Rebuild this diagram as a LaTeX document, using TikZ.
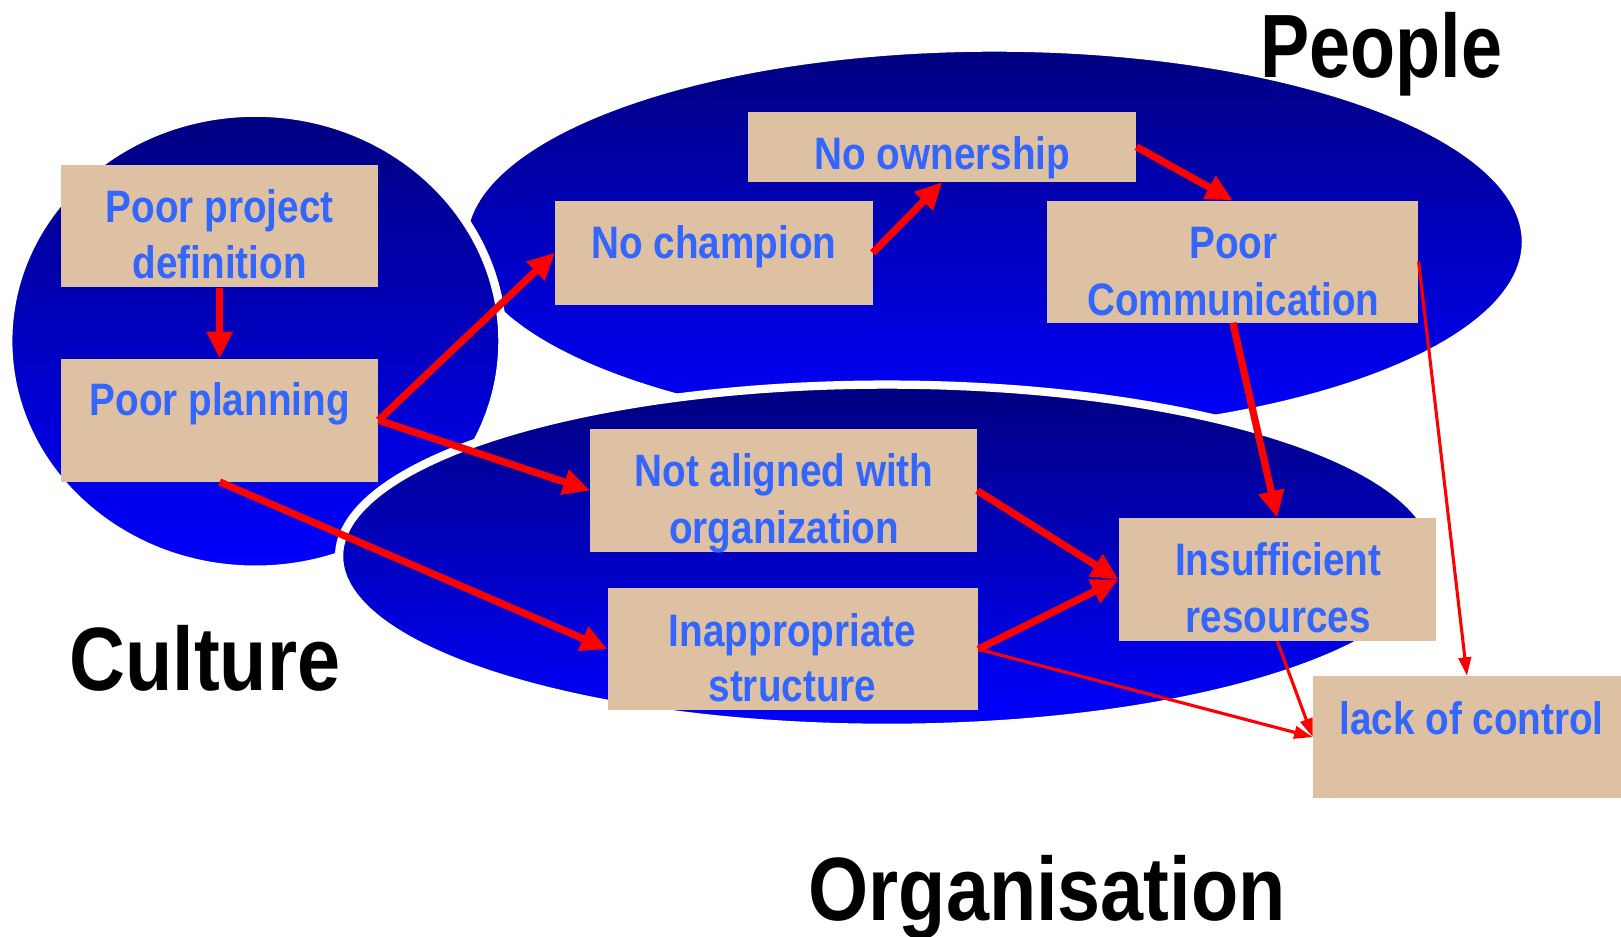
\documentclass[tikz,border=0pt]{standalone}
\usepackage{fontspec}
\newfontfamily\nf{Liberation Sans}[FakeStretch=0.85]
\newfontfamily\lfa{Liberation Sans}[FakeStretch=0.82]
\newfontfamily\lfb{Liberation Sans}[FakeStretch=0.86]
\usetikzlibrary{arrows.meta}
\definecolor{boxtan}{RGB}{222,192,162}
\definecolor{txtblue}{RGB}{51,102,255}
\definecolor{navytop}{RGB}{0,0,128}
\definecolor{bluebot}{RGB}{0,0,255}
\definecolor{arrred}{RGB}{255,0,0}
\begin{document}
\begin{tikzpicture}[x=1pt,y=-1pt,
  region/.style={top color=navytop,bottom color=bluebot,draw=white,line width=8pt},
  causebox/.style={fill=boxtan,draw=none,inner sep=0pt,rectangle},
  boxtext/.style={text=txtblue,font=\nf\bfseries\fontsize{44}{53}\selectfont,inner sep=0pt,anchor=base},
  grouplabel/.style={text=black,inner sep=0pt,anchor=base west},
  bigarrow/.style={draw=arrred,line width=7pt,-{Triangle[length=26pt,width=24pt]}},
  smallarrow/.style={draw=arrred,line width=3pt,-{Triangle[length=18pt,width=12pt]}},
]
\useasboundingbox (0,0) rectangle (1568,906);

% regions
\path[region] (962,234) ellipse [x radius=514, y radius=188];
\path[region] (247,330) ellipse [x radius=239, y radius=221];
\path[region] (858,538) ellipse [x radius=530, y radius=166];

% boxes
\node[causebox, minimum width=307pt, minimum height=118pt] (ppd) at (212.5,219) {};
\node[causebox, minimum width=307pt, minimum height=119pt] (pp) at (212.5,406.5) {};
\node[causebox, minimum width=307pt, minimum height=101pt] (nch) at (690.5,244.5) {};
\node[causebox, minimum width=375pt, minimum height=68pt] (now) at (911.5,142) {};
\node[causebox, minimum width=359pt, minimum height=118pt] (pc) at (1192.5,253) {};
\node[causebox, minimum width=374pt, minimum height=119pt] (na) at (758,474.5) {};
\node[causebox, minimum width=358pt, minimum height=118pt] (ia) at (767,628) {};
\node[causebox, minimum width=307pt, minimum height=119pt] (ir) at (1235.5,560.5) {};
\node[causebox, minimum width=298pt, minimum height=118pt] (lc) at (1419,713) {};

% box texts
\node[boxtext] (ppd1) at (212.5,215) {Poor project};
\node[boxtext] (ppd2) at (212.5,269) {definition};
\node[boxtext] (pp1) at (212.5,402) {Poor planning};
\node[boxtext] (nch1) at (690.5,250) {No champion};
\node[boxtext] (now1) at (911.5,164) {No ownership};
\node[boxtext] (pc1) at (1193,250) {Poor};
\node[boxtext] (pc2) at (1193,305) {Communication};
\node[boxtext] (na1) at (758.5,471) {Not aligned with};
\node[boxtext] (na2) at (758.5,526) {organization};
\node[boxtext] (ia1) at (766.5,625) {Inappropriate};
\node[boxtext] (ia2) at (766.5,679) {structure};
\node[boxtext] (ir1) at (1236.5,557) {Insufficient};
\node[boxtext] (ir2) at (1236.5,612) {resources};
\node[boxtext] (lc1) at (1423.5,710) {lack of control};

% group labels
\node[grouplabel, font=\lfa\bfseries\fontsize{87}{100}\selectfont] (lpeople) at (1219,75) {People};
\node[grouplabel, font=\lfb\bfseries\fontsize{87}{100}\selectfont] (lculture) at (67,668) {Culture};
\node[grouplabel, font=\lfb\bfseries\fontsize{87}{100}\selectfont] (lorg) at (782,890) {Organisation};

% arrows
\draw[bigarrow] (ppd.south) -- (pp.north);
\draw[bigarrow] (pp.east) -- (nch.west);
\draw[bigarrow] (pp.east) -- (na.west);
\draw[bigarrow] (pp.south) -- (ia.west);
\draw[bigarrow] (nch.east) -- (now.south);
\draw[bigarrow] (now.east) -- (pc.north);
\draw[bigarrow] (pc.south) -- (ir.north);
\draw[bigarrow] (na.east) -- (ir.west);
\draw[bigarrow] (ia.east) -- (ir.west);
\draw[smallarrow] (pc.east) -- (lc.north);
\draw[smallarrow] (ia.east) -- (lc.west);
\draw[smallarrow] (ir.south) -- (lc.west);
\end{tikzpicture}
\end{document}
